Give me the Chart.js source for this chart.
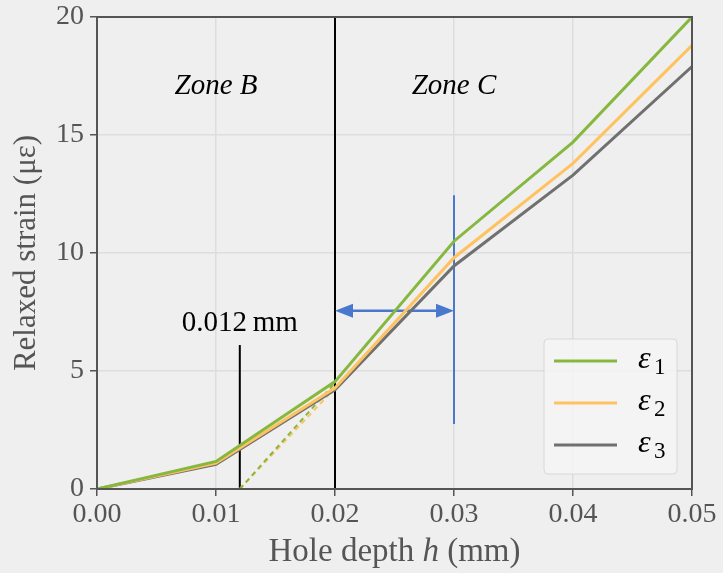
<!DOCTYPE html>
<html>
<head>
<meta charset="utf-8">
<script src="https://cdn.jsdelivr.net/npm/chart.js@4.4.1/dist/chart.umd.min.js"></script>
<style>
  html, body { margin: 0; padding: 0; background: #efefef; }
  #wrap { width: 723px; height: 573px; }
</style>
</head>
<body>
<div id="wrap"><canvas id="chart" width="723" height="573"></canvas></div>
<script>
// hole depths (mm) and relaxed strains (µε)
const depths = [0, 0.01, 0.02, 0.03, 0.04, 0.05];
const eps1 = [0, 1.17, 4.55, 10.5, 14.7, 20.0];
const eps2 = [0, 1.1, 4.28, 9.8, 13.8, 18.8];
const eps3 = [0, 1.05, 4.2, 9.45, 13.3, 17.9];
const seriesNames = ["1", "2", "3"];

// extrapolation from the zone B/C boundary back to zero strain
const startDepth = 0.012;
const dashEps1 = [0, 4.5];
const dashEps2 = [0, 4.28];
const dashDepths = [startDepth, 0.02];

// markers
const markLow = [0, 6.1];          // 0.012 mm line
const boundary = [0.02, 0, 20];    // zone B/C line
const blueBar = [0.03, 2.75, 12.45];
const arrowY = 7.55;
const zoneLabels = [
  { text: "Zone B", x: 0.01, y: 17.05 },
  { text: "Zone C", x: 0.03, y: 17.05 }
];
const depthLabel = { text: "0.012\u2009mm", x: 0.012, y: 7.0 };

const xTicks = [0, 0.01, 0.02, 0.03, 0.04, 0.05];
const yTicks = [0, 5, 10, 15, 20];

const GREEN = "#86b840";
const ORANGE = "#ffc260";
const GREY = "#707070";
const BLUE = "#4a78cc";
const AXIS = "#555555";
const SERIF = "'Liberation Serif', 'DejaVu Serif', serif";

const pts = (xs, ys) => xs.map((x, i) => ({ x: x, y: ys[i] }));

const mainSets = [
  { label: "e1", data: pts(depths, eps1), borderColor: GREEN },
  { label: "e2", data: pts(depths, eps2), borderColor: ORANGE },
  { label: "e3", data: pts(depths, eps3), borderColor: GREY }
].map((d) => Object.assign(d, { borderWidth: 3, pointRadius: 0, fill: false, tension: 0 }));

const extraSets = [
  { data: pts(dashDepths, dashEps1), borderColor: GREEN, borderDash: [5, 4], borderWidth: 2 },
  { data: pts(dashDepths, dashEps2), borderColor: ORANGE, borderDash: [5, 4], borderWidth: 2 },
  { data: pts([startDepth, startDepth], markLow), borderColor: "#000", borderWidth: 2 },
  { data: pts([boundary[0], boundary[0]], [boundary[1], boundary[2]]), borderColor: "#000", borderWidth: 2 },
  { data: pts([blueBar[0], blueBar[0]], [blueBar[1], blueBar[2]]), borderColor: BLUE, borderWidth: 2 },
  { data: pts([boundary[0] + 0.0012, blueBar[0] - 0.0012], [arrowY, arrowY]), borderColor: BLUE, borderWidth: 2.5 }
].map((d) => Object.assign(d, { label: "", pointRadius: 0, fill: false, tension: 0 }));

const overlay = {
  id: "overlay",
  beforeDraw(chart) {
    const { ctx } = chart;
    ctx.save();
    ctx.fillStyle = "#efefef";
    ctx.fillRect(0, 0, chart.width, chart.height);
    ctx.restore();
  },
  afterDatasetsDraw(chart) {
    const { ctx, chartArea: a } = chart;
    const xs = chart.scales.x, ys = chart.scales.y;

    // arrow heads
    const ay = ys.getPixelForValue(arrowY);
    const x0 = xs.getPixelForValue(boundary[0]);
    const x1 = xs.getPixelForValue(blueBar[0]);
    ctx.save();
    ctx.fillStyle = BLUE;
    ctx.beginPath();
    ctx.moveTo(x0, ay); ctx.lineTo(x0 + 18, ay - 7); ctx.lineTo(x0 + 18, ay + 7); ctx.closePath();
    ctx.moveTo(x1, ay); ctx.lineTo(x1 - 18, ay - 7); ctx.lineTo(x1 - 18, ay + 7); ctx.closePath();
    ctx.fill();

    // texts
    ctx.fillStyle = "#000";
    ctx.textAlign = "center";
    ctx.textBaseline = "middle";
    ctx.font = "italic 29px " + SERIF;
    zoneLabels.forEach((z) => ctx.fillText(z.text, xs.getPixelForValue(z.x), ys.getPixelForValue(z.y)));
    ctx.font = "29px " + SERIF;
    ctx.fillText(depthLabel.text, xs.getPixelForValue(depthLabel.x), ys.getPixelForValue(depthLabel.y));

    // x axis title, with italic h
    const parts = [["Hole depth ", ""], ["h", "italic "], [" (mm)", ""]];
    ctx.fillStyle = AXIS;
    ctx.textAlign = "left";
    ctx.textBaseline = "middle";
    let total = 0;
    parts.forEach((p) => { ctx.font = p[1] + "33px " + SERIF; total += ctx.measureText(p[0]).width; });
    let tx = (a.left + a.right) / 2 - total / 2;
    const ty = a.bottom + 63;
    parts.forEach((p) => {
      ctx.font = p[1] + "33px " + SERIF;
      ctx.fillText(p[0], tx, ty);
      tx += ctx.measureText(p[0]).width;
    });

    // frame
    ctx.strokeStyle = AXIS;
    ctx.lineWidth = 2;
    ctx.strokeRect(a.left, a.top, a.right - a.left, a.bottom - a.top);

    // legend
    const lx = a.right - 148, ly = a.bottom - 150, lw = 133, lh = 135;
    ctx.fillStyle = "rgba(245,245,245,0.85)";
    ctx.strokeStyle = "#d8d8d8";
    ctx.lineWidth = 1;
    ctx.beginPath();
    ctx.roundRect(lx, ly, lw, lh, 4);
    ctx.fill();
    ctx.stroke();
    mainSets.forEach((d, i) => {
      const y = ly + 22 + i * 42;
      ctx.strokeStyle = d.borderColor;
      ctx.lineWidth = 3;
      ctx.beginPath();
      ctx.moveTo(lx + 10, y);
      ctx.lineTo(lx + 73, y);
      ctx.stroke();
      ctx.fillStyle = "#000";
      ctx.textAlign = "left";
      ctx.textBaseline = "alphabetic";
      ctx.font = "italic 32px " + SERIF;
      ctx.fillText("\u03b5", lx + 94, y + 7);
      ctx.font = "23px " + SERIF;
      ctx.fillText(seriesNames[i], lx + 110, y + 13);
    });
    ctx.restore();
  }
};

new Chart(document.getElementById("chart"), {
  type: "line",
  data: { datasets: mainSets.concat(extraSets) },
  options: {
    responsive: false,
    animation: false,
    layout: { padding: { top: 17, right: 31, left: 0, bottom: 0 } },
    plugins: { legend: { display: false }, tooltip: { enabled: false } },
    scales: {
      x: {
        type: "linear",
        min: 0,
        max: 0.05,
        afterBuildTicks: (s) => { s.ticks = xTicks.map((v) => ({ value: v })); },
        afterFit: (s) => { s.height = 84; },
        grid: { color: "#dddddd", lineWidth: 1.5, tickColor: AXIS, tickLength: 7, drawTicks: true },
        border: { display: false },
        ticks: {
          color: AXIS,
          font: { family: SERIF, size: 28 },
          padding: 2,
          maxRotation: 0,
          callback: (v) => v.toFixed(2)
        },
        title: { display: false }
      },
      y: {
        type: "linear",
        min: 0,
        max: 20,
        afterBuildTicks: (s) => { s.ticks = yTicks.map((v) => ({ value: v })); },
        afterFit: (s) => { s.width = 97; s.paddingTop = 0; s.paddingBottom = 0; },
        grid: { color: "#dddddd", lineWidth: 1.5, tickColor: AXIS, tickLength: 7, drawTicks: true },
        border: { display: false },
        ticks: {
          color: AXIS,
          font: { family: SERIF, size: 28, lineHeight: 0.7 },
          padding: 6
        },
        title: {
          display: true,
          text: "Relaxed strain (\u03bc\u03b5)",
          color: AXIS,
          font: { family: SERIF, size: 31 },
          padding: { top: 8, bottom: 0 }
        }
      }
    }
  },
  plugins: [overlay]
});
</script>
</body>
</html>
